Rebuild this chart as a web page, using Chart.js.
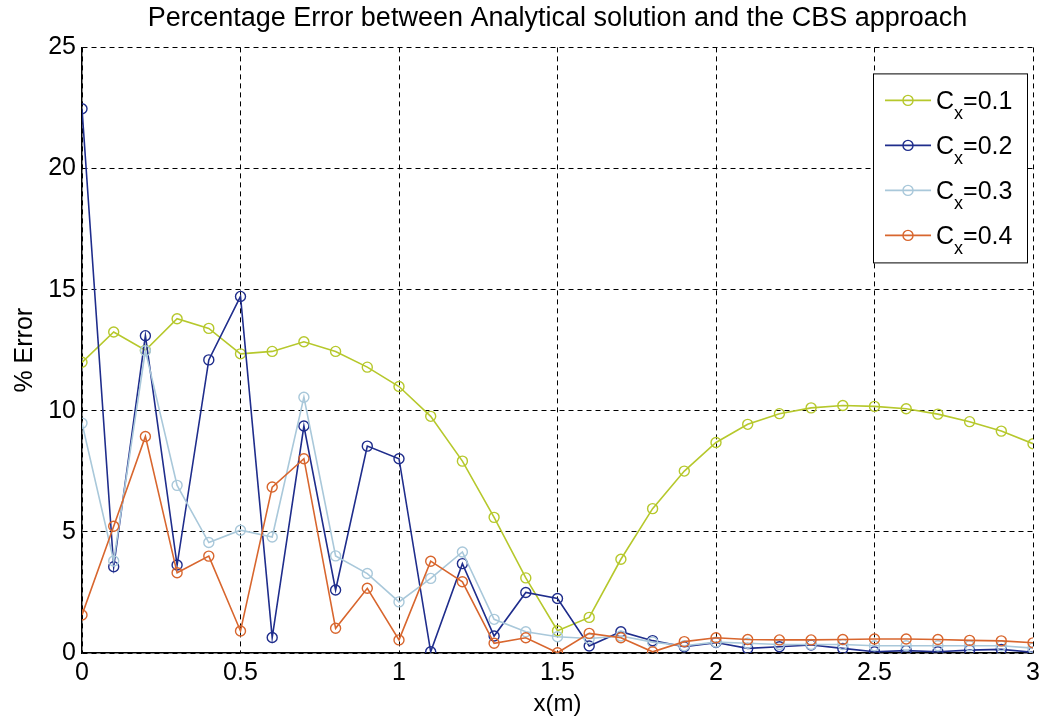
<!DOCTYPE html>
<html>
<head>
<meta charset="utf-8">
<script src="https://cdn.jsdelivr.net/npm/chart.js@4/dist/chart.umd.min.js"></script>
<style>
  body { margin: 0; background: #ffffff; }
  #errChart { display: block; }
</style>
</head>
<body>
<canvas id="errChart" width="1040" height="719"></canvas>
<script>
// x positions along the bar (m)
var xPositions = [0, 0.1, 0.2, 0.3, 0.4, 0.5, 0.6, 0.7, 0.8, 0.9, 1.0,
  1.1, 1.2, 1.3, 1.4, 1.5, 1.6, 1.7, 1.8, 1.9, 2.0,
  2.1, 2.2, 2.3, 2.4, 2.5, 2.6, 2.7, 2.8, 2.9, 3.0];

// % error for each Courant number
var errCx01 = [12.0, 13.25, 12.5, 13.8, 13.4, 12.35, 12.45, 12.85, 12.45, 11.8, 11.0,
  9.77, 7.92, 5.6, 3.1, 0.92, 1.47, 3.87, 5.96, 7.51, 8.69,
  9.44, 9.88, 10.12, 10.22, 10.18, 10.08, 9.86, 9.55, 9.16, 8.64];
var errCx02 = [22.47, 3.56, 13.1, 3.63, 12.1, 14.72, 0.64, 9.37, 2.6, 8.54, 8.02,
  0.05, 3.69, 0.7, 2.5, 2.25, 0.29, 0.88, 0.51, 0.26, 0.43,
  0.19, 0.26, 0.33, 0.19, 0.05, 0.1, 0.05, 0.12, 0.15, 0.03];
var errCx03 = [9.49, 3.8, 12.48, 6.92, 4.56, 5.07, 4.79, 10.56, 4.01, 3.28, 2.11,
  3.08, 4.17, 1.39, 0.88, 0.67, 0.6, 0.7, 0.45, 0.3, 0.45,
  0.4, 0.35, 0.35, 0.35, 0.3, 0.3, 0.3, 0.3, 0.3, 0.2];
var errCx04 = [1.57, 5.23, 8.94, 3.31, 4.0, 0.91, 6.85, 8.02, 1.02, 2.67, 0.54,
  3.79, 2.94, 0.4, 0.63, 0.01, 0.81, 0.63, 0.05, 0.47, 0.63,
  0.56, 0.54, 0.54, 0.56, 0.58, 0.58, 0.56, 0.52, 0.5, 0.42];

var cxValues = ["0.1", "0.2", "0.3", "0.4"];
var lineColors = ["#b6c82c", "#1f2d8c", "#a9c8da", "#d8662e"];

var xTicks = [0, 0.5, 1, 1.5, 2, 2.5, 3];
var yTicks = [0, 5, 10, 15, 20, 25];

var FONT = "'Liberation Sans', Arial, sans-serif";

function pairUp(ys) {
  return xPositions.map(function (x, i) {
    return { x: x, y: ys[i] };
  });
}

var seriesList = [errCx01, errCx02, errCx03, errCx04];
var datasets = seriesList.map(function (ys, i) {
  return {
    label: "Cx=" + cxValues[i],
    data: pairUp(ys),
    borderColor: lineColors[i],
    borderWidth: 1.6,
    pointStyle: "circle",
    pointRadius: 5,
    pointBorderWidth: 1.4,
    pointBorderColor: lineColors[i],
    pointBackgroundColor: "rgba(0,0,0,0)",
    tension: 0,
    fill: false,
    order: 4 - i,
  };
});

// legend box with subscript x, drawn like the MATLAB one
var matlabLegend = {
  id: "matlabLegend",
  afterDatasetsDraw: function (chart) {
    var ctx = chart.ctx;
    var area = chart.chartArea;
    var boxW = 154, boxH = 189;
    var left = area.right - 6 - boxW;
    var top = area.top + 26;
    ctx.save();
    ctx.fillStyle = "#ffffff";
    ctx.fillRect(left, top, boxW, boxH);
    ctx.strokeStyle = "#000000";
    ctx.lineWidth = 1;
    ctx.strokeRect(left + 0.5, top + 0.5, boxW, boxH);

    for (var i = 0; i < cxValues.length; i++) {
      var cy = top + 27 + i * 45;
      ctx.strokeStyle = lineColors[i];
      ctx.lineWidth = 1.6;
      ctx.beginPath();
      ctx.moveTo(left + 12, cy);
      ctx.lineTo(left + 58, cy);
      ctx.stroke();
      ctx.beginPath();
      ctx.arc(left + 35, cy, 5, 0, Math.PI * 2);
      ctx.lineWidth = 1.4;
      ctx.stroke();

      ctx.fillStyle = "#000000";
      ctx.textBaseline = "alphabetic";
      ctx.textAlign = "left";
      ctx.font = "25px " + FONT;
      var tx = left + 63;
      ctx.fillText("C", tx, cy + 9);
      tx += ctx.measureText("C").width;
      ctx.font = "18px " + FONT;
      ctx.fillText("x", tx, cy + 19);
      tx += ctx.measureText("x").width;
      ctx.font = "25px " + FONT;
      ctx.fillText("=" + cxValues[i], tx, cy + 9);
    }
    ctx.restore();
  },
};

new Chart(document.getElementById("errChart"), {
  type: "line",
  data: { datasets: datasets },
  plugins: [matlabLegend],
  options: {
    responsive: false,
    animation: false,
    layout: { padding: { left: 0, right: 0, top: 0, bottom: 0 } },
    plugins: {
      legend: { display: false },
      tooltip: { enabled: false },
      title: {
        display: true,
        fullSize: false,
        text: "Percentage Error between Analytical solution and the CBS approach",
        color: "#000000",
        font: { family: FONT, size: 27, weight: "normal" },
        padding: { top: 2, bottom: 13 },
      },
    },
    scales: {
      x: {
        type: "linear",
        min: 0,
        max: 3,
        afterBuildTicks: function (scale) {
          scale.ticks = xTicks.map(function (v) { return { value: v }; });
        },
        afterFit: function (scale) {
          scale.height = 66;
          scale.paddingRight = 7;
        },
        ticks: {
          color: "#000000",
          font: { family: FONT, size: 25 },
          padding: 5,
          maxRotation: 0,
          autoSkip: false,
          callback: function (v) { return String(v); },
        },
        grid: {
          color: "#000000",
          lineWidth: 1,
          drawTicks: false,
        },
        border: { display: true, color: "#000000", width: 1.5, dash: [5, 4] },
        title: {
          display: true,
          text: "x(m)",
          color: "#000000",
          font: { family: FONT, size: 24 },
          padding: { top: 0, bottom: 0 },
        },
      },
      y: {
        type: "linear",
        min: 0,
        max: 25,
        afterBuildTicks: function (scale) {
          scale.ticks = yTicks.map(function (v) { return { value: v }; });
        },
        afterFit: function (scale) {
          scale.width = 82;
        },
        ticks: {
          color: "#000000",
          font: { family: FONT, size: 25 },
          padding: 6,
          callback: function (v) { return String(v); },
        },
        grid: {
          color: "#000000",
          lineWidth: 1,
          drawTicks: false,
        },
        border: { display: true, color: "#000000", width: 1.5, dash: [5, 4] },
        title: {
          display: true,
          text: "% Error",
          color: "#000000",
          font: { family: FONT, size: 25 },
          padding: { top: 10, bottom: 0 },
        },
      },
    },
  },
});
</script>
</body>
</html>
